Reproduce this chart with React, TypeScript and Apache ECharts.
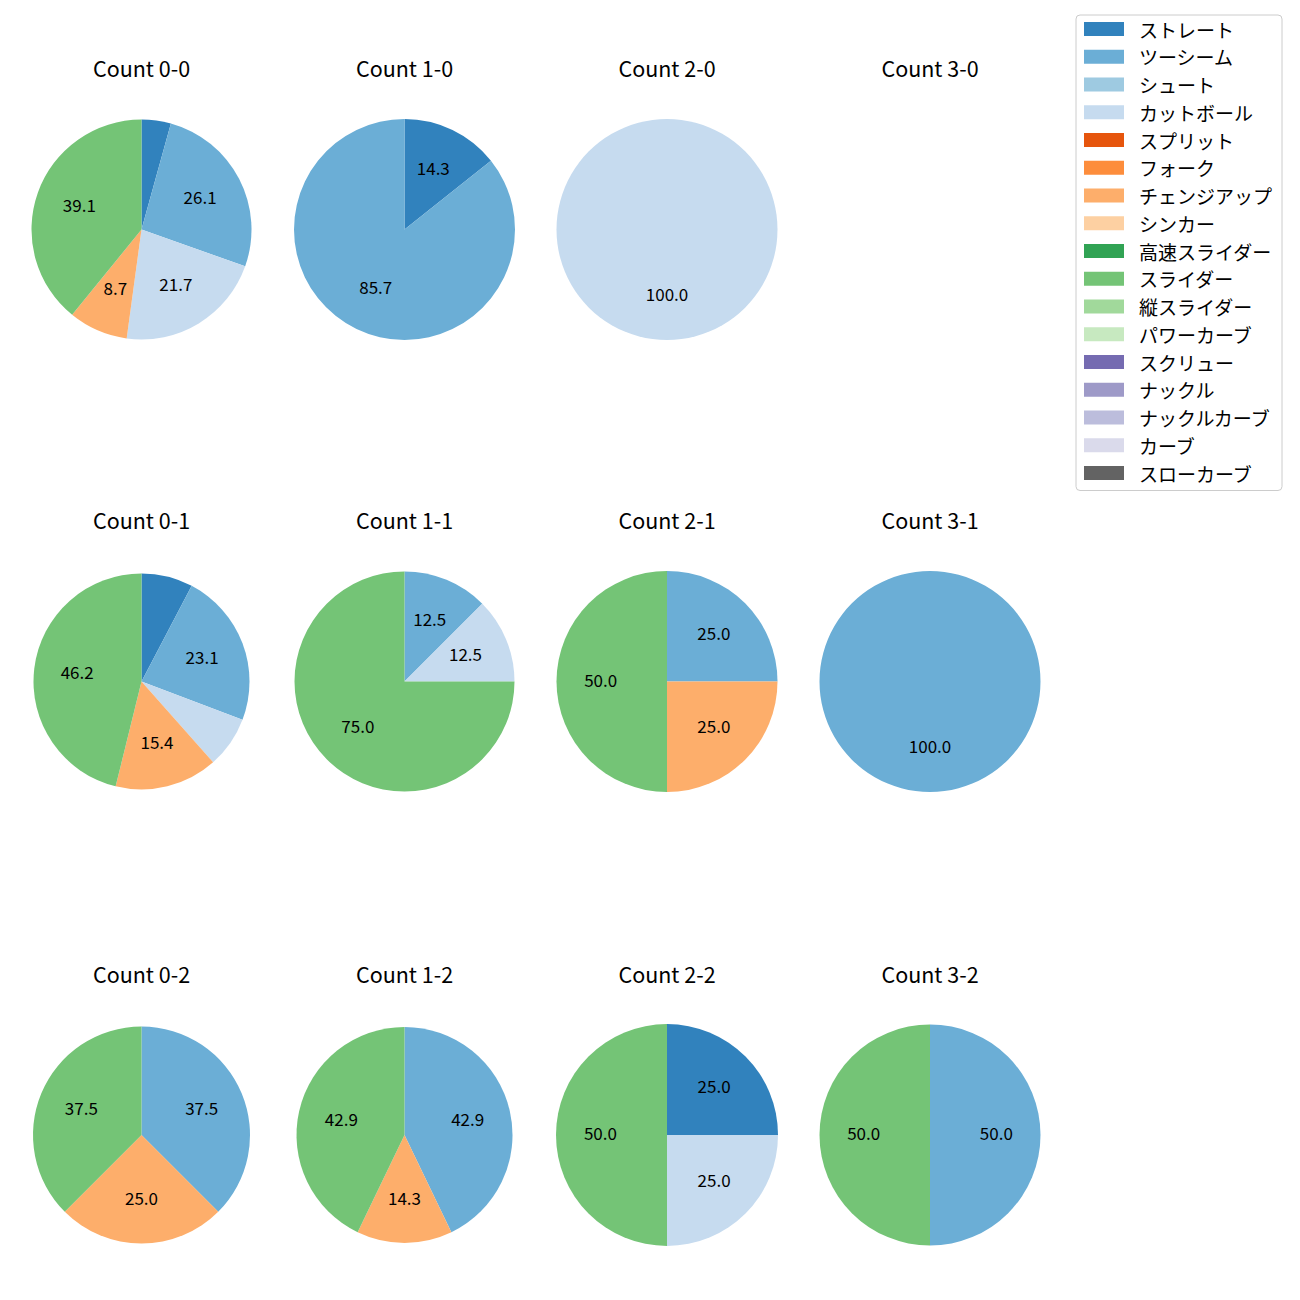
import React, { useEffect, useRef } from "react";
import * as echarts from "echarts";

const PITCH_TYPES = [
  "ストレート", "ツーシーム", "シュート", "カットボール", "スプリット", "フォーク",
  "チェンジアップ", "シンカー", "高速スライダー", "スライダー", "縦スライダー",
  "パワーカーブ", "スクリュー", "ナックル", "ナックルカーブ", "カーブ", "スローカーブ",
];
const PITCH_COLORS = [
  "#3182bd", "#6baed6", "#9ecae1", "#c6dbef", "#e6550d", "#fd8d3c",
  "#fdae6b", "#fdd0a2", "#31a354", "#74c476", "#a1d99b",
  "#c7e9c0", "#756bb1", "#9e9ac8", "#bcbddc", "#dadaeb", "#636363",
];

// percentages per count: [pitch, pct]
const count00: [string, number][] = [["ストレート", 4.3], ["ツーシーム", 26.1], ["カットボール", 21.7], ["チェンジアップ", 8.7], ["スライダー", 39.1]];
const count10: [string, number][] = [["ストレート", 14.3], ["ツーシーム", 85.7]];
const count20: [string, number][] = [["カットボール", 100.0]];
const count30: [string, number][] = [];
const count01: [string, number][] = [["ストレート", 7.7], ["ツーシーム", 23.1], ["カットボール", 7.7], ["チェンジアップ", 15.4], ["スライダー", 46.2]];
const count11: [string, number][] = [["ツーシーム", 12.5], ["カットボール", 12.5], ["スライダー", 75.0]];
const count21: [string, number][] = [["ツーシーム", 25.0], ["チェンジアップ", 25.0], ["スライダー", 50.0]];
const count31: [string, number][] = [["ツーシーム", 100.0]];
const count02: [string, number][] = [["ツーシーム", 37.5], ["チェンジアップ", 25.0], ["スライダー", 37.5]];
const count12: [string, number][] = [["ツーシーム", 42.9], ["チェンジアップ", 14.3], ["スライダー", 42.9]];
const count22: [string, number][] = [["ストレート", 25.0], ["カットボール", 25.0], ["スライダー", 50.0]];
const count32: [string, number][] = [["ツーシーム", 50.0], ["スライダー", 50.0]];

const COUNT_TITLES = [
  "Count 0-0", "Count 1-0", "Count 2-0", "Count 3-0",
  "Count 0-1", "Count 1-1", "Count 2-1", "Count 3-1",
  "Count 0-2", "Count 1-2", "Count 2-2", "Count 3-2",
];
const COUNT_DATA = [
  count00, count10, count20, count30,
  count01, count11, count21, count31,
  count02, count12, count22, count32,
];

// layout
const COL_X = [141.5, 404.5, 667, 930];
const ROW_Y = [229.5, 681.5, 1135];
const RADII = [110, 110.5, 110.5, 110, 108, 110, 110.5, 110.5, 108.5, 108, 111, 110.5];
const LABEL_MIN = 8;
const FONT = "'Noto Sans CJK JP', 'Noto Sans', sans-serif";

function colorOf(name: string) {
  return PITCH_COLORS[PITCH_TYPES.indexOf(name)];
}

export default function App() {
  const ref = useRef<HTMLDivElement>(null);
  useEffect(() => {
    const chart = echarts.init(ref.current!, null, { renderer: "svg" });
    const series: any[] = [
      {
        type: "pie",
        name: "legend",
        radius: [0, 0],
        center: [-50, -50],
        silent: true,
        label: { show: false },
        labelLine: { show: false },
        data: PITCH_TYPES.map((n, i) => ({ name: n, value: 1, itemStyle: { color: PITCH_COLORS[i] } })),
      },
    ];
    const graphics: any[] = [];
    COUNT_DATA.forEach((d, idx) => {
      const cx = COL_X[idx % 4];
      const cy = ROW_Y[Math.floor(idx / 4)];
      const r = RADII[idx];
      graphics.push({
        type: "text",
        x: cx,
        y: cy - 162,
        style: {
          text: COUNT_TITLES[idx],
          font: `21.5px ${FONT}`,
          fill: "#000",
          textAlign: "center",
          textVerticalAlign: "middle",
        },
      });
      if (d.length === 0) return;
      const items = d.map(([n, v]) => ({ name: n, value: v, itemStyle: { color: colorOf(n) } }));
      series.push({
        type: "pie",
        center: [cx, cy],
        radius: [0, r],
        startAngle: 90,
        clockwise: true,
        silent: true,
        animation: false,
        label: { show: false },
        labelLine: { show: false },
        emphasis: { disabled: true },
        itemStyle: { borderWidth: 0 },
        data: items,
      });
      // transparent helper ring so that 'inside' labels sit at 0.6 r
      // (ECharts adds a 3px outward offset to inside labels)
      series.push({
        type: "pie",
        center: [cx, cy],
        radius: [0, r * 1.2 - 6],
        startAngle: 90,
        clockwise: true,
        silent: true,
        animation: false,
        avoidLabelOverlap: false,
        emphasis: { disabled: true },
        itemStyle: { color: "rgba(0,0,0,0)", borderWidth: 0 },
        label: {
          show: true,
          position: "inside",
          rotate: 0,
          color: "#000",
          fontSize: 17,
          fontFamily: FONT,
          formatter: (p: any) => (p.value >= LABEL_MIN ? `{v|${p.value.toFixed(1)}}` : ""),
          rich: {
            v: {
              fontSize: 17,
              fontFamily: FONT,
              color: "#000",
              lineHeight: 17,
              padding: [0, 0, 5, 0],
            },
          },
        },
        labelLine: { show: false },
        data: d.map(([n, v]) => ({ name: n, value: v })),
      });
    });
    chart.setOption({
      animation: false,
      legend: {
        orient: "vertical",
        left: 1076,
        top: 15,
        padding: [4.5, 10, 8, 8],
        itemWidth: 40,
        itemHeight: 14,
        itemGap: 8.75,
        icon: "rect",
        borderColor: "#cccccc",
        borderWidth: 1,
        borderRadius: 4,
        selectedMode: false,
        data: PITCH_TYPES,
        textStyle: {
          fontSize: 19,
          lineHeight: 19,
          color: "#000",
          fontFamily: FONT,
          padding: [0, 0, 0, 10],
        },
      },
      graphic: graphics,
      series,
    });
    return () => chart.dispose();
  }, []);
  return (
    <div
      ref={ref}
      style={{ position: "absolute", left: 0, top: 0, width: 1300, height: 1300, background: "#fff" }}
    />
  );
}
